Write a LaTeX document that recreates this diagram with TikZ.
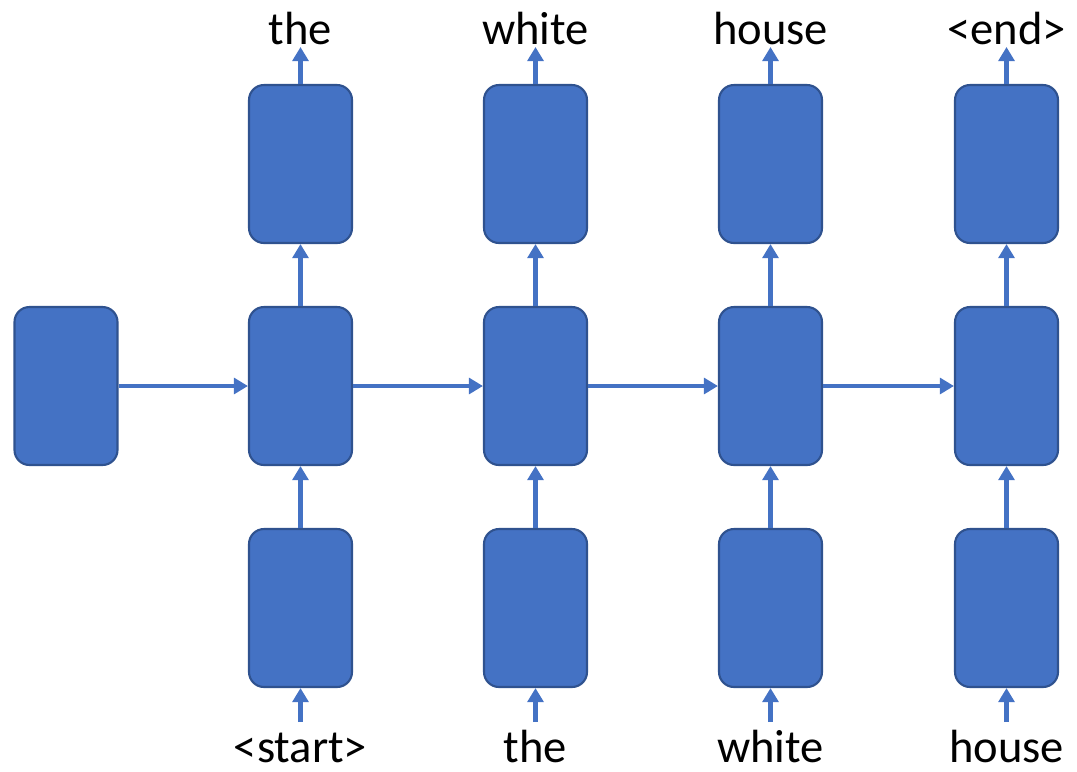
\documentclass[tikz,border=0pt]{standalone}
\usepackage{fontspec}
\setmainfont{Carlito}
\usepackage{tikz}
\usetikzlibrary{arrows.meta,positioning,calc}
\definecolor{cellfill}{HTML}{4472C4}
\definecolor{celldraw}{HTML}{2F528F}
\tikzstyle{cell}=[draw=celldraw,fill=cellfill,line width=1.2pt,rounded corners=8.5pt,minimum width=2.06cm,minimum height=3.16cm,inner sep=0pt]
\tikzstyle{flow}=[draw=cellfill,line width=2.6pt,-{Triangle[length=8pt,width=9pt]}]
\tikzstyle{word}=[font=\fontsize{26.5}{30}\selectfont,inner sep=0pt,anchor=base]

\begin{document}
\begin{tikzpicture}[x=0.02cm,y=-0.02cm]
    \useasboundingbox (0,0) rectangle (1077,771);
    % initial state
    \node [cell] (h0) at (66,386) {};
    % recurrent cells
    \node [cell] (h1) at (300.5,386) {};
    \node [cell] (h2) at (535.5,386) {};
    \node [cell] (h3) at (770.5,386) {};
    \node [cell] (h4) at (1006.5,386) {};
    % input cells
    \node [cell] (in1) at (300.5,608) {};
    \node [cell] (in2) at (535.5,608) {};
    \node [cell] (in3) at (770.5,608) {};
    \node [cell] (in4) at (1006.5,608) {};
    % output cells
    \node [cell] (out1) at (300.5,164) {};
    \node [cell] (out2) at (535.5,164) {};
    \node [cell] (out3) at (770.5,164) {};
    \node [cell] (out4) at (1006.5,164) {};
    % words
    \node [word] (w1) at (300.5,44) {the};
    \node [word] (w2) at (535.5,44) {white};
    \node [word] (w3) at (770.5,44) {house};
    \node [word] (w4) at (1006.5,44) {<end>};
    \node [word] (x1) at (300.5,762) {<start>};
    \node [word] (x2) at (535.5,762) {the};
    \node [word] (x3) at (770.5,762) {white};
    \node [word] (x4) at (1006.5,762) {house};
    \coordinate (t1) at (300.5,47);
    \coordinate (t2) at (535.5,47);
    \coordinate (t3) at (770.5,47);
    \coordinate (t4) at (1006.5,47);
    \coordinate (b1) at (300.5,722);
    \coordinate (b2) at (535.5,722);
    \coordinate (b3) at (770.5,722);
    \coordinate (b4) at (1006.5,722);

    \draw [flow] (h0) -- (h1);
    \draw [flow] (h1) -- (h2);
    \draw [flow] (h2) -- (h3);
    \draw [flow] (h3) -- (h4);
    \foreach \i in {1,...,4} {
      \draw [flow] (b\i) -- (in\i.south);
      \draw [flow] (in\i) -- (h\i);
      \draw [flow] (h\i) -- (out\i);
      \draw [flow] (out\i.north) -- (t\i);
    }
\end{tikzpicture}
\end{document}
